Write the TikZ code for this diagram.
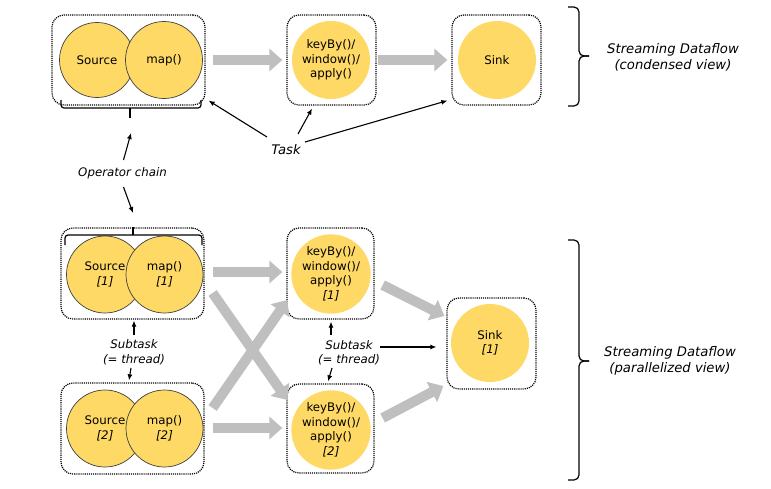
\documentclass[tikz,border=0pt]{standalone}
\usepackage{fontspec}
\setmainfont{DejaVu Sans}
\usetikzlibrary{arrows.meta}
\definecolor{fyellow}{HTML}{FFD966}
\definecolor{fgray}{HTML}{BFBFBF}
\definecolor{fedge}{HTML}{404040}
\newcommand\nodefnt{\fontsize{11.8}{14.5}\selectfont}
\newcommand\bigfnt{\fontsize{13.2}{16}\selectfont\itshape}
\begin{document}
\begin{tikzpicture}[x=1pt,y=-1pt,
  dbox/.style n args={2}{draw, line width=1.25pt, dash pattern=on 1.1pt off 1pt,
     rounded corners=12pt, inner sep=0pt, minimum width=#1pt, minimum height=#2pt},
  opc/.style={circle, fill=fyellow, draw=fedge, line width=0.7pt, inner sep=0pt,
     minimum size=#1pt, align=center, font=\nodefnt},
  opy/.style={circle, fill=fyellow, inner sep=0pt, minimum size=#1pt,
     align=center, font=\nodefnt},
  lab/.style={font=\nodefnt\itshape, align=center, inner sep=1pt},
  labbig/.style={font=\bigfnt, align=center, inner sep=1pt},
  brc/.style={line width=1.2pt, rounded corners=3pt},
  rbrc/.style={line width=1.2pt, rounded corners=5pt},
  arr/.style={line width=1.1pt, -{Latex[length=6pt,width=5pt]}},
  garr/.style={draw=fgray, line width=10pt, -{Triangle[length=13pt,width=22pt]}}
]
\useasboundingbox (0,0) rectangle (771,488);

% ---------- condensed view ----------
\node[dbox={153}{90}] (bA) at (128.5,60) {};
\node[dbox={89}{90}] (bB) at (331.5,60) {};
\node[dbox={89}{90}] (bC) at (496.5,60) {};

\node[opc=75] (srcA) at (97,60) {Source};
\node[opc=77] (mapA) at (164,60) {map()};
\node[opy=78] (keyA) at (331,60) {keyBy()/\\window()/\\apply()};
\node[opy=78] (sinkA) at (497,60) {Sink};

\draw[garr] ([shift={(7,0)}]bA.east) -- ([shift={(-4,0)}]bB.west);
\draw[garr] ([shift={(1,0)}]bB.east) -- ([shift={(-4,0)}]bC.west);

% brace under operator chain
\draw[brc] (61,100) -- (61,108) -- (201,108) -- (201,100);
\draw[brc] (130,108) -- (130,118);
\coordinate (tipA) at (130,118);

% right brace (condensed)
\draw[rbrc] (568,7) -- (579,7) -- (579,56) -- (589,56);
\draw[rbrc] (568,106) -- (579,106) -- (579,56) -- (589,56);
\node[labbig] (sdc) at (673,57) {Streaming Dataflow\\(condensed view)};

% Task
\node[labbig] (task) at (286,150) {Task};
\draw[arr] ([shift={(-19,-13)}]task.center) -- ([shift={(3,-5)}]bA.south east);
\draw[arr] ([shift={(12,-16)}]task.center) -- ([shift={(-19.5,3)}]bB.south);
\draw[arr] ([shift={(19,-8)}]task.center) -- ([shift={(-4,-5)}]bC.south west);

% Operator chain
\node[lab] (opch) at (122.5,173) {Operator chain};
\coordinate (tipB) at (133,227);
\draw[arr] ([shift={(1,-13)}]opch.center) -- ([shift={(1,15)}]tipA);
\draw[arr] ([shift={(1,14)}]opch.center) -- ([shift={(0,-14)}]tipB);

% ---------- parallelized view ----------
\node[dbox={143}{91}] (bB1) at (132.5,273.5) {};
\node[dbox={143}{91}] (bB2) at (132.5,428.5) {};
\node[dbox={87}{91}] (bK1) at (330.5,273.5) {};
\node[dbox={87}{89}] (bK2) at (330.5,428.5) {};
\node[dbox={89}{91}] (bS) at (491.5,343.5) {};

\node[opc=77] (src1) at (105,274.5) {Source\\\textit{[1]}};
\node[opc=77] (map1) at (164.5,274.5) {map()\\\textit{[1]}};
\node[opc=77] (src2) at (105,428.5) {Source\\\textit{[2]}};
\node[opc=77] (map2) at (164.5,428.5) {map()\\\textit{[2]}};
\node[opy=76] (key1) at (331,274) {keyBy()/\\window()/\\apply()\\\textit{[1]}};
\node[opy=76] (key2) at (331,430) {keyBy()/\\window()/\\apply()\\\textit{[2]}};
\node[opy=78] (sink1) at (490,343) {Sink\\\textit{[1]}};

% brace over operator chain (parallel)
\draw[brc] (65,245) -- (65,235) -- (202,235) -- (202,245);
\draw[brc] (133,235) -- (133,227);

% gray data-flow arrows
\draw[garr] ([shift={(8,-1.5)}]bB1.east) -- ([shift={(-4,-1.5)}]bK1.west);
\draw[garr] ([shift={(8,-0.5)}]bB2.east) -- ([shift={(-4,-0.5)}]bK2.west);
\draw[garr] ([shift={(8,19.5)}]bB1.east) -- ([shift={(1,-28.5)}]bK2.west);
\draw[garr] ([shift={(8,-20.5)}]bB2.east) -- ([shift={(1,26.5)}]bK1.west);
\draw[garr] ([shift={(8,11.5)}]bK1.east) -- ([shift={(-2,-27.5)}]bS.west);
\draw[garr] ([shift={(8,-10.5)}]bK2.east) -- ([shift={(-3,42.5)}]bS.west);

% Subtask labels
\node[lab] (sub1) at (134,352.5) {Subtask\\(= thread)};
\node[lab] (sub2) at (349,353) {Subtask\\(= thread)};
\draw[arr] ([shift={(0,-17.5)}]sub1.center) -- ([shift={(1.5,1)}]bB1.south);
\draw[arr] ([shift={(-3,15.5)}]sub1.center) -- ([shift={(-3.5,-2)}]bB2.north);
\draw[arr] ([shift={(-18,-18)}]sub2.center) -- ([shift={(0.5,2)}]bK1.south);
\draw[arr] ([shift={(-17,15)}]sub2.center) -- ([shift={(-2.5,-2)}]bK2.north);
\draw[arr] ([shift={(31,-6)}]sub2.center) -- ([shift={(-10,3.5)}]bS.west);

% right brace (parallel)
\draw[rbrc] (568,240) -- (579,240) -- (579,361) -- (589,361);
\draw[rbrc] (568,480) -- (579,480) -- (579,361) -- (589,361);
\node[labbig] (sdp) at (670,361) {Streaming Dataflow\\(parallelized view)};
\end{tikzpicture}
\end{document}
